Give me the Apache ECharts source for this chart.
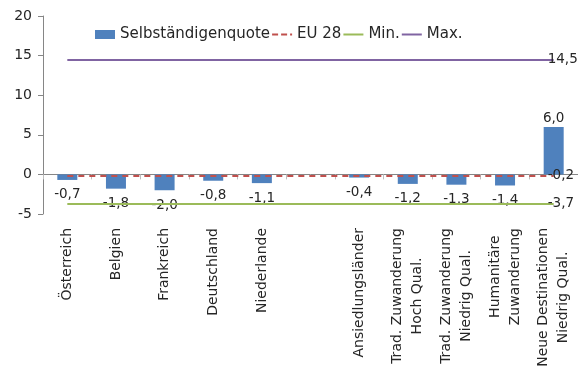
<!DOCTYPE html>
<html>
<head>
<meta charset="utf-8">
<script src="https://cdn.jsdelivr.net/npm/echarts@6/dist/echarts.min.js"></script>
<style>
  html, body { margin: 0; padding: 0; background: #fff; }
  #chart { width: 578px; height: 376px; }
</style>
</head>
<body>
<div id="chart"></div>
<script>
// Kategorien (leerer Eintrag trennt Länder und Cluster)
const categories = [
  'Österreich', 'Belgien', 'Frankreich', 'Deutschland', 'Niederlande', '',
  'Ansiedlungsländer',
  'Trad. Zuwanderung\nHoch Qual.',
  'Trad. Zuwanderung\nNiedrig Qual.',
  'Humanitäre\nZuwanderung',
  'Neue Destinationen\nNiedrig Qual.'
];

// Selbständigenquote (Abweichung, Prozentpunkte)
const selbstaendigenquote = [-0.7, -1.8, -2.0, -0.8, -1.1, null, -0.4, -1.2, -1.3, -1.4, 6.0];

// Referenzwerte
const eu28 = -0.2;
const minWert = -3.7;
const maxWert = 14.5;

// Werteachse
const yMin = -5;
const yMax = 20;
const yStep = 5;

const FONT = 'DejaVu Sans';
const TEXT = '#262626';
const fmt = v => v.toFixed(1).replace('.', ',');

const lastIdx = categories.length - 1;

// Legendensymbole für die Referenzlinien
const ICON_SOLID = 'path://M0,0h20v2h-20z';
const ICON_DASHED = 'path://M0,0h6v2h-6z M9,0h6v2h-6z M18,0h2v2h-2z';

function refLine(name, value, color, type) {
  return {
    name: name,
    type: 'line',
    data: [],
    symbol: 'none',
    lineStyle: { color: color, width: 2, type: type },
    itemStyle: { color: color },
    z: 5,
    markLine: {
      silent: true,
      symbol: ['none', 'none'],
      lineStyle: { color: color, width: 2, type: type === 'dashed' ? [6, 5] : 'solid' },
      label: {
        show: true,
        position: 'end',
        distance: -6,
        formatter: () => fmt(value),
        color: TEXT,
        fontFamily: FONT,
        fontSize: 13.5
      },
      emphasis: { disabled: true },
      data: [[{ coord: [0, value] }, { coord: [lastIdx, value] }]]
    }
  };
}

const chart = echarts.init(document.getElementById('chart'), null, { renderer: 'canvas' });

chart.setOption({
  animation: false,
  backgroundColor: '#fff',
  grid: { left: 43, right: 0, top: 16, bottom: 162, outerBoundsMode: 'none', containLabel: false },
  legend: {
    left: 90,
    top: 22,
    itemGap: 2,
    itemWidth: 20,
    itemHeight: 9,
    textStyle: { color: TEXT, fontFamily: FONT, fontSize: 15 },
    data: [
      { name: 'Selbständigenquote', icon: 'rect' },
      { name: 'EU 28', icon: ICON_DASHED },
      { name: 'Min.', icon: ICON_SOLID },
      { name: 'Max.', icon: ICON_SOLID }
    ]
  },
  xAxis: {
    type: 'category',
    data: categories,
    axisLine: { onZero: true, lineStyle: { color: '#868686', width: 1 } },
    axisTick: { show: true, interval: 0, length: 5, lineStyle: { color: '#bfbfbf' } },
    axisLabel: {
      interval: 0,
      rotate: 90,
      margin: 14,
      color: TEXT,
      fontFamily: FONT,
      fontSize: 14,
      formatter: v => v ? v.split('\n').map(s => '{c|' + s + '}').join('\n') : '',
      rich: { c: { align: 'center', color: TEXT, fontFamily: FONT, fontSize: 14, lineHeight: 20 } }
    },
    splitLine: { show: false }
  },
  yAxis: {
    type: 'value',
    min: yMin,
    max: yMax,
    interval: yStep,
    axisLine: { show: true, lineStyle: { color: '#868686' } },
    axisTick: { show: true, length: 5, lineStyle: { color: '#868686' } },
    axisLabel: { color: TEXT, fontFamily: FONT, fontSize: 14, margin: 11 },
    splitLine: { show: false }
  },
  series: [
    {
      name: 'Selbständigenquote',
      type: 'bar',
      barWidth: 20,
      itemStyle: { color: '#4F81BD' },
      z: 2,
      label: {
        show: true,
        color: TEXT,
        fontFamily: FONT,
        fontSize: 13.5,
        formatter: p => fmt(p.value)
      },
      data: selbstaendigenquote.map(v => v === null ? null : {
        value: v,
        label: { position: v < 0 ? 'bottom' : 'top', distance: v < 0 ? 8 : 1 }
      })
    },
    refLine('EU 28', eu28, '#C0504D', 'dashed'),
    refLine('Min.', minWert, '#9BBB59', 'solid'),
    refLine('Max.', maxWert, '#8064A2', 'solid')
  ]
});
</script>
</body>
</html>
